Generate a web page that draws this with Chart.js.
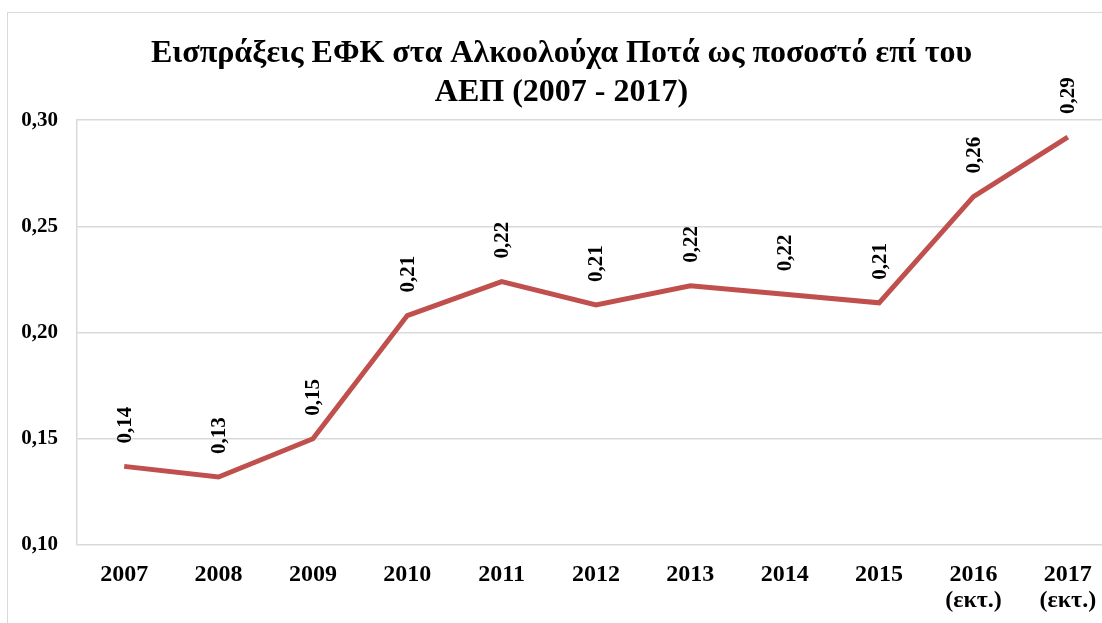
<!DOCTYPE html>
<html>
<head>
<meta charset="utf-8">
<script src="https://cdn.jsdelivr.net/npm/chart.js@4.4.1/dist/chart.umd.min.js"></script>
<style>
    html, body { margin: 0; padding: 0; background: #fff; overflow: hidden; }
    #frame {
        position: absolute;
        left: 7px;
        top: 12px;
        width: 1112px;
        height: 642px;
        border: 1px solid #d9d9d9;
    }
    #chart { display: block; }
</style>
</head>
<body>
<div id="frame">
    <canvas id="chart" width="1110" height="640"></canvas>
</div>
<script>
// Chart data
const years = [
    '2007', '2008', '2009', '2010', '2011', '2012',
    '2013', '2014', '2015', ['2016', '(εκτ.)'], ['2017', '(εκτ.)']
];
const revenueShare = [0.137, 0.132, 0.150, 0.208, 0.224, 0.213, 0.222, 0.218, 0.214, 0.264, 0.292];
const titleLines = ['Εισπράξεις ΕΦΚ στα Αλκοολούχα Ποτά ως ποσοστό επί του', 'ΑΕΠ (2007 - 2017)'];

const FONT = "'Liberation Serif', 'Times New Roman', serif";
const LINE_COLOR = '#c0504d';
const GRID_COLOR = '#d9d9d9';

// greek decimal comma
function fmt(v) {
    return v.toFixed(2).replace('.', ',');
}

/**
 * Vertical value labels above each point
 */
const valueLabels = {
    id: 'valueLabels',
    afterDatasetsDraw(chart) {
        const ctx = chart.ctx;
        const meta = chart.getDatasetMeta(0);
        ctx.save();
        ctx.font = 'bold 21px ' + FONT;
        ctx.fillStyle = '#000';
        ctx.textAlign = 'left';
        ctx.textBaseline = 'middle';
        meta.data.forEach((pt, i) => {
            ctx.save();
            ctx.translate(pt.x + 1, pt.y - 23);
            ctx.rotate(-Math.PI / 2);
            ctx.fillText(fmt(revenueShare[i]), 0, 0);
            ctx.restore();
        });
        ctx.restore();
    }
};

new Chart(document.getElementById('chart'), {
    type: 'line',
    data: {
        labels: years,
        datasets: [{
            data: revenueShare,
            borderColor: LINE_COLOR,
            borderWidth: 5,
            pointRadius: 0,
            tension: 0,
            fill: false
        }]
    },
    options: {
        responsive: false,
        animation: false,
        layout: { padding: { left: 0, right: 3, top: 0, bottom: 0 } },
        plugins: {
            legend: { display: false },
            tooltip: { enabled: false },
            title: {
                display: true,
                text: titleLines,
                color: '#000',
                font: { family: FONT, size: 32, weight: 'bold', lineHeight: 1.22 },
                padding: { top: 21, bottom: 8 }
            }
        },
        scales: {
            x: {
                offset: true,
                grid: { display: false, drawTicks: false },
                border: { display: false },
                ticks: {
                    color: '#000',
                    padding: 17,
                    maxRotation: 0,
                    autoSkip: false,
                    font: { family: FONT, size: 24, weight: 'bold', lineHeight: 1.08 }
                },
                afterFit(scale) { scale.height = 640 - 532; }
            },
            y: {
                min: 0.10,
                max: 0.30,
                grid: { color: GRID_COLOR, lineWidth: 1.5, drawTicks: false },
                border: { display: true, color: GRID_COLOR, width: 1.5 },
                ticks: {
                    stepSize: 0.05,
                    color: '#000',
                    padding: 19,
                    font: { family: FONT, size: 21, weight: 'bold' },
                    callback: v => fmt(v)
                },
                afterFit(scale) { scale.width = 69; }
            }
        }
    },
    plugins: [valueLabels]
});
</script>
</body>
</html>
